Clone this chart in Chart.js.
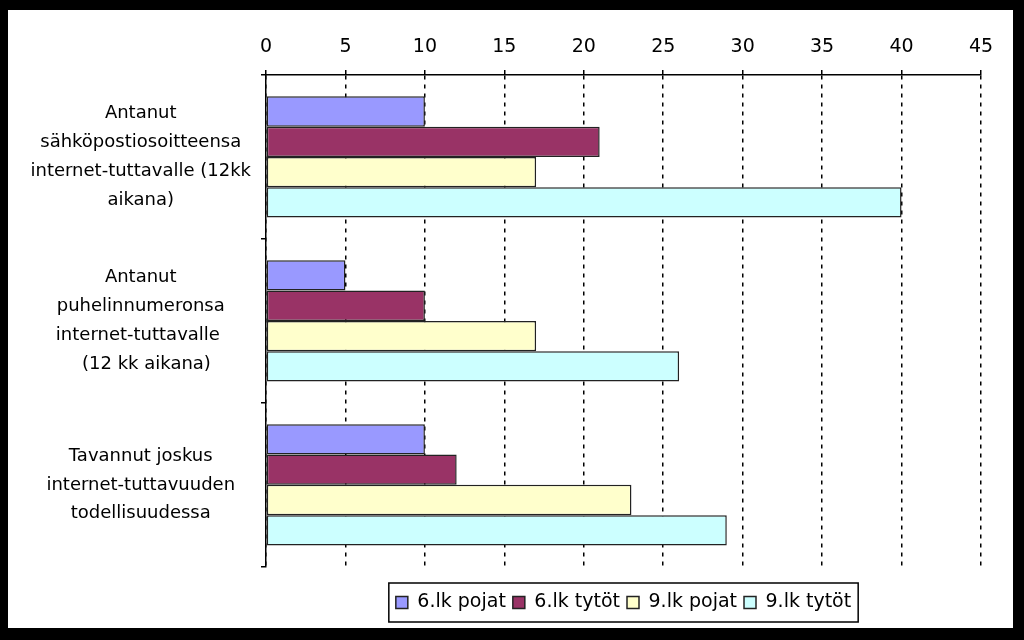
<!DOCTYPE html>
<html>
<head>
<meta charset="utf-8">
<script src="https://cdn.jsdelivr.net/npm/chart.js@4.4.0/dist/chart.umd.min.js"></script>
<style>
  body { margin: 0; background: #000; }
  #wrap { position: absolute; left: 0; top: 0; width: 1024px; height: 640px; }
  #paper { position: absolute; left: 8px; top: 10px; width: 1005px; height: 618px; background: #fff; }
  canvas { position: absolute; left: 0; top: 0; }
</style>
</head>
<body>
<div id="wrap">
  <div id="paper"></div>
  <canvas id="myChart" width="1024" height="640"></canvas>
</div>
<script>
// categories (multi-line labels)
const categories = [
  ['Antanut', 'sähköpostiosoitteensa', 'internet-tuttavalle (12kk', 'aikana)'],
  ['Antanut', 'puhelinnumeronsa', 'internet-tuttavalle ', '  (12 kk aikana)'],
  ['Tavannut joskus', 'internet-tuttavuuden', 'todellisuudessa']
]

const seriesNames = ['6.lk pojat', '6.lk tytöt', '9.lk pojat', '9.lk tytöt']
const pojat6 = [10, 5, 10]
const tytot6 = [21, 10, 12]
const pojat9 = [17, 17, 23]
const tytot9 = [40, 26, 29]
const seriesColors = ['#9999FF', '#993366', '#FFFFCC', '#CCFFFF']

const xMin = 0
const xMax = 45
const xStep = 5

const font = 'DejaVu Sans, Verdana, sans-serif'

// draw a box around the legend items
const legendBox = {
  id: 'legendBox',
  afterDraw(chart) {
    const boxes = chart.legend.legendHitBoxes
    if (!boxes || !boxes.length) return
    let l = Infinity, r = -Infinity, t = Infinity, b = -Infinity
    boxes.forEach(h => {
      l = Math.min(l, h.left); r = Math.max(r, h.left + h.width)
      t = Math.min(t, h.top); b = Math.max(b, h.top + h.height)
    })
    const ctx = chart.ctx
    ctx.save()
    ctx.strokeStyle = '#000'
    ctx.lineWidth = 1.5
    ctx.strokeRect(l - 7, t - 10, r - l + 14, b - t + 20)
    ctx.restore()
  }
}

const allSeries = [pojat6, tytot6, pojat9, tytot9]

const ctx = document.getElementById('myChart').getContext('2d')

new Chart(ctx, {
  type: 'bar',
  data: {
    labels: categories,
    datasets: allSeries.map((d, i) => ({
      label: seriesNames[i],
      data: d,
      backgroundColor: seriesColors[i],
      borderColor: '#222',
      borderWidth: 1.5,
      borderSkipped: false,
      categoryPercentage: 0.74,
      barPercentage: 1
    }))
  },
  plugins: [legendBox],
  options: {
    indexAxis: 'y',
    responsive: false,
    animation: false,
    layout: { padding: { left: 16, right: 43, top: 10, bottom: 18 } },
    scales: {
      x: {
        position: 'top',
        min: xMin,
        max: xMax,
        afterFit(scale) { scale.height = 65 },
        ticks: {
          stepSize: xStep,
          color: '#000',
          padding: 12,
          font: { family: font, size: 19 }
        },
        grid: {
          color: '#000',
          lineWidth: 1.5,
          tickLength: 5,
          tickBorderDash: []
        },
        border: { display: true, color: '#000', width: 1.5, dash: [4, 5] }
      },
      y: {
        afterFit(scale) { scale.width = 250 },
        ticks: {
          color: '#000',
          padding: 10,
          crossAlign: 'center',
          font: { family: font, size: 18, lineHeight: 1.6 }
        },
        grid: {
          drawOnChartArea: false,
          color: '#000',
          lineWidth: 1.5,
          tickLength: 5
        },
        border: { display: true, color: '#000', width: 1.5 }
      }
    },
    plugins: {
      legend: {
        position: 'bottom',
        fullSize: false,
        title: { display: true, text: '', font: { size: 1 }, padding: { top: 0, bottom: 18 } },
        labels: {
          color: '#000',
          boxWidth: 12,
          boxHeight: 12,
          padding: 7,
          font: { family: font, size: 19 }
        }
      },
      tooltip: { enabled: false }
    }
  }
})
</script>
</body>
</html>
